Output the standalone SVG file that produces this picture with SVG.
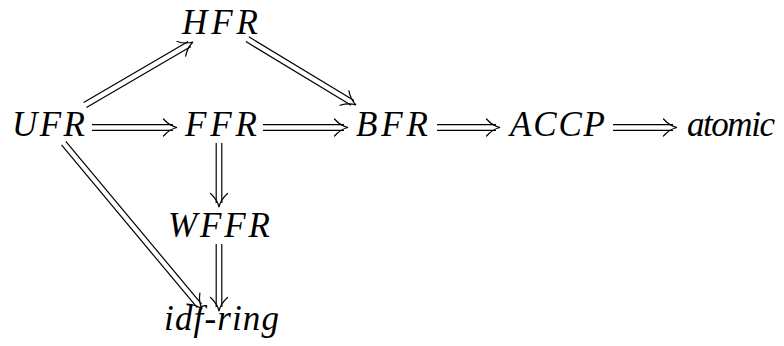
<svg xmlns="http://www.w3.org/2000/svg" xmlns:xlink="http://www.w3.org/1999/xlink" width="784" height="346" viewBox="0 0 784 346">
<style>
.t{font-family:'Liberation Serif','DejaVu Serif',serif;font-style:italic;font-size:35px;fill:#000}
.dl{fill:none;stroke:#000;stroke-width:1.2}
.hd{fill:none;stroke:#000;stroke-width:1.2;stroke-linecap:round}
</style>
<defs>
<path id="head" class="hd" d="M -13.5,-8.5 C -9,-3.5 -4.5,-1 0,0 C -4.5,1 -9,3.5 -13.5,8.5"/>
</defs>
<rect width="784" height="346" fill="#fff"/>
<g id="connectors">
<g id="e-ufr-ffr" transform="translate(177,127.5)"><path class="dl" d="M -85,-2.8 H -4 M -85,2.8 H -4"/><use xlink:href="#head"/></g>
<g id="e-ffr-bfr" transform="translate(348,127.5)"><path class="dl" d="M -85,-2.8 H -4 M -85,2.8 H -4"/><use xlink:href="#head"/></g>
<g id="e-bfr-accp" transform="translate(500,127.5)"><path class="dl" d="M -63,-2.8 H -4 M -63,2.8 H -4"/><use xlink:href="#head"/></g>
<g id="e-accp-atomic" transform="translate(677,127.5)"><path class="dl" d="M -64,-2.8 H -4 M -64,2.8 H -4"/><use xlink:href="#head"/></g>
<g id="e-ufr-hfr" transform="translate(193,42) rotate(-30.26)"><path class="dl" d="M -125,-2.8 H -4 M -125,2.8 H -4"/><use xlink:href="#head"/></g>
<g id="e-hfr-bfr" transform="translate(356,105) rotate(31.2)"><path class="dl" d="M -127,-2.8 H -4 M -127,2.8 H -4"/><use xlink:href="#head"/></g>
<g id="e-ufr-idf" transform="translate(202,309) rotate(50.16)"><path class="dl" d="M -216,-2.8 H -4 M -216,2.8 H -4"/><use xlink:href="#head"/></g>
<g id="e-ffr-wffr" transform="translate(219,207) rotate(90)"><path class="dl" d="M -64,-2.8 H -4 M -64,2.8 H -4"/><use xlink:href="#head"/></g>
<g id="e-wffr-idf" transform="translate(219,311) rotate(90)"><path class="dl" d="M -67,-2.8 H -4 M -67,2.8 H -4"/><use xlink:href="#head"/></g>
</g>
<g id="n-hfr"><text class="t" x="182" y="34" textLength="76" lengthAdjust="spacing">HFR</text></g>
<g id="n-ufr"><text class="t" x="12" y="136" textLength="73" lengthAdjust="spacing">UFR</text></g>
<g id="n-ffr"><text class="t" x="185" y="136" textLength="72" lengthAdjust="spacing">FFR</text></g>
<g id="n-bfr"><text class="t" x="356" y="136" textLength="72" lengthAdjust="spacing">BFR</text></g>
<g id="n-accp"><text class="t" x="510" y="136" textLength="95" lengthAdjust="spacing">ACCP</text></g>
<g id="n-atomic"><text class="t" x="687" y="136" textLength="88" lengthAdjust="spacing">atomic</text></g>
<g id="n-wffr"><text class="t" x="168" y="237" textLength="102" lengthAdjust="spacing">WFFR</text></g>
<g id="n-idf"><text class="t" x="164" y="330" textLength="115" lengthAdjust="spacing">idf-ring</text></g>
</svg>
